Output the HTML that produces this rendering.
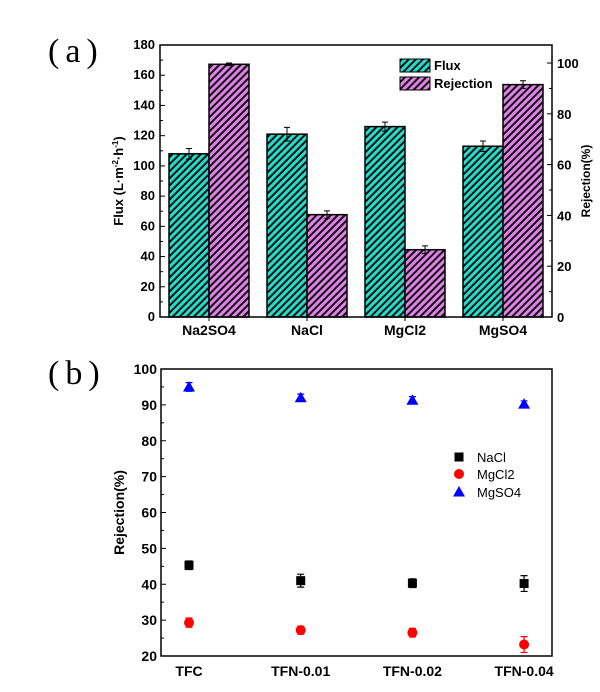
<!DOCTYPE html>
<html><head><meta charset="utf-8"><style>
body{margin:0;background:#fff;width:600px;height:687px;overflow:hidden}
svg{font-family:"Liberation Sans",Arial,sans-serif}
</style></head><body>
<svg width="600" height="687">
<defs>
<pattern id="hc" patternUnits="userSpaceOnUse" width="5" height="5" patternTransform="rotate(45)"><rect width="5" height="5" fill="#22dccc"/><rect width="2" height="5" fill="#111"/></pattern>
<pattern id="hm" patternUnits="userSpaceOnUse" width="5" height="5" patternTransform="rotate(45)"><rect width="5" height="5" fill="#e080e8"/><rect width="2" height="5" fill="#111"/></pattern>
</defs>
<text x="48" y="62" font-family="Liberation Serif,serif" font-size="34" letter-spacing="6">(a)</text>
<text x="48" y="384" font-family="Liberation Serif,serif" font-size="34" letter-spacing="6">(b)</text>
<g id="ga"></g><g id="gb"></g>
</svg>
<script>
const aCats=["Na2SO4","NaCl","MgCl2","MgSO4"];
const aFlux=[108,121,126,113];
const aFluxErr=[3.5,4.5,3,3.5];
const aRej=[99.5,40.3,26.5,91.5];
const aRejErr=[0.5,1.5,1.5,1.5];
const aLeftTicks=[0,20,40,60,80,100,120,140,160,180];
const aRightTicks=[0,20,40,60,80,100];
const bCats=["TFC","TFN-0.01","TFN-0.02","TFN-0.04"];
const bNaCl=[45.3,41,40.3,40.2];
const bNaClErr=[1.2,1.8,1.2,2.2];
const bMgCl2=[29.3,27.2,26.5,23.2];
const bMgCl2Err=[1.3,1.1,1.2,2.2];
const bMgSO4=[95,92,91.3,90.2];
const bMgSO4Err=[1.2,1,1,0.9];
const bTicks=[20,30,40,50,60,70,80,90,100];
const NS="http://www.w3.org/2000/svg";
function mk(p,t,a,txt){const e=document.createElementNS(NS,t);for(const k in a)e.setAttribute(k,a[k]);if(txt!==undefined)e.textContent=txt;p.appendChild(e);return e;}
// Panel A
const ga=document.getElementById('ga');
const L=160,R=552,T=45,B=317;
const yL=v=>B-(v/180)*(B-T);
const yR=v=>B-(v/107.1)*(B-T);
const xc=i=>209+i*98;
aCats.forEach((c,i)=>{
 let r=mk(ga,'rect',{x:xc(i)-40,y:yL(aFlux[i]),width:40,height:B-yL(aFlux[i]),fill:'url(#hc)',stroke:'#000','stroke-width':1.5});
 
 
 r=mk(ga,'rect',{x:xc(i),y:yR(aRej[i]),width:40,height:B-yR(aRej[i]),fill:'url(#hm)',stroke:'#000','stroke-width':1.5});
 
 
 [[xc(i)-20,yL(aFlux[i]+aFluxErr[i]),yL(aFlux[i]-aFluxErr[i])],[xc(i)+20,yR(aRej[i]+aRejErr[i]),yR(aRej[i]-aRejErr[i])]].forEach(([x,y1,y2])=>{
  mk(ga,'path',{d:`M${x},${y1}V${y2}M${x-3},${y1}H${x+3}M${x-3},${y2}H${x+3}`,stroke:'#000','stroke-width':1,fill:'none'});
 });
 const t=mk(ga,'text',{x:xc(i),y:B+18,'text-anchor':'middle','font-size':14,'font-weight':'bold'},c);
 
 
 mk(ga,'line',{x1:xc(i),x2:xc(i),y1:B,y2:B+4,stroke:'#000'});
});
let fr=mk(ga,'rect',{x:L,y:T,width:R-L,height:B-T,fill:'none',stroke:'#000','stroke-width':1.5});


aLeftTicks.forEach(v=>{const y=yL(v);mk(ga,'line',{x1:L,x2:L+5,y1:y,y2:y,stroke:'#000'});if(v<180)mk(ga,'line',{x1:L,x2:L+3,y1:yL(v+10),y2:yL(v+10),stroke:'#000'});
 mk(ga,'text',{x:L-5,y:y+4,'text-anchor':'end','font-size':13,'font-weight':'bold'},v);});
aRightTicks.forEach(v=>{const y=yR(v);mk(ga,'line',{x1:R,x2:R-5,y1:y,y2:y,stroke:'#000'});if(v<100)mk(ga,'line',{x1:R,x2:R-3,y1:yR(v+10),y2:yR(v+10),stroke:'#000'});
 mk(ga,'text',{x:R+5,y:y+5,'font-size':13,'font-weight':'bold'},v);});
let yt=mk(ga,'text',{transform:`translate(123,${(T+B)/2}) rotate(-90)`,'text-anchor':'middle','font-size':13,'font-weight':'bold'});
yt.innerHTML='Flux (L·m<tspan dy="-5" font-size="8">-2</tspan><tspan dy="5">·h</tspan><tspan dy="-5" font-size="8">-1</tspan><tspan dy="5">)</tspan>';


let yt2=mk(ga,'text',{transform:`translate(590,${(T+B)/2}) rotate(-90)`,'text-anchor':'middle','font-size':12,'font-weight':'bold'},'Rejection(%)');


[['url(#hc)','Flux',59],['url(#hm)','Rejection',77]].forEach(([f,n,y])=>{
 const g=mk(ga,'g',{});
 
 
 mk(g,'rect',{x:400,y:y,width:30,height:13,fill:f,stroke:'#000'});
 mk(g,'text',{x:434,y:y+11,'font-size':13,'font-weight':'bold'},n);
});
// Panel B
const gb=document.getElementById('gb');
const L2=161,R2=552,T2=369,B2=656;
const yb=v=>B2-((v-20)/80)*(B2-T2);
const xb=i=>189+i*111.7;
let fr2=mk(gb,'rect',{x:L2,y:T2,width:R2-L2,height:B2-T2,fill:'none',stroke:'#000','stroke-width':1.5});


bTicks.forEach(v=>{const y=yb(v);mk(gb,'line',{x1:L2,x2:L2+5,y1:y,y2:y,stroke:'#000'});if(v<100)mk(gb,'line',{x1:L2,x2:L2+3,y1:yb(v+5),y2:yb(v+5),stroke:'#000'});
 mk(gb,'text',{x:L2-4,y:y+5,'text-anchor':'end','font-size':14,'font-weight':'bold'},v);});
bCats.forEach((c,i)=>{const t=mk(gb,'text',{x:xb(i),y:B2+20,'text-anchor':'middle','font-size':14,'font-weight':'bold'},c);
 
 });
let yt3=mk(gb,'text',{transform:`translate(124,${(T2+B2)/2}) rotate(-90)`,'text-anchor':'middle','font-size':14,'font-weight':'bold'},'Rejection(%)');


function marker(p,shape,x,y,col){
 if(shape==='sq')return mk(p,'rect',{x:x-4.5,y:y-4.5,width:9,height:9,fill:col});
 if(shape==='ci')return mk(p,'circle',{cx:x,cy:y,r:5,fill:col});
 return mk(p,'path',{d:`M${x},${y-6}L${x+6},${y+4.5}L${x-6},${y+4.5}Z`,fill:col});
}
[[bNaCl,bNaClErr,'sq','#000','nacl'],[bMgCl2,bMgCl2Err,'ci','#f00','mgcl2'],[bMgSO4,bMgSO4Err,'tr','#00f','mgso4']].forEach(([vals,errs,sh,col,nm])=>{
 vals.forEach((v,i)=>{
  const x=xb(i),y1=yb(v+errs[i]),y2=yb(v-errs[i]);
  mk(gb,'path',{d:`M${x},${y1}V${y2}M${x-3.5},${y1}H${x+3.5}M${x-3.5},${y2}H${x+3.5}`,stroke:col,'stroke-width':1.2,fill:'none'});
  const m=marker(gb,sh,x,yb(v),col);
  
  
 });
});
[['sq','#000','NaCl',457],['ci','#f00','MgCl2',474],['tr','#00f','MgSO4',492]].forEach(([sh,col,n,y])=>{
 const g=mk(gb,'g',{});
 
 
 marker(g,sh,459,y,col);
 mk(g,'text',{x:477,y:y+5,'font-size':13},n);
});
</script>
</body></html>
